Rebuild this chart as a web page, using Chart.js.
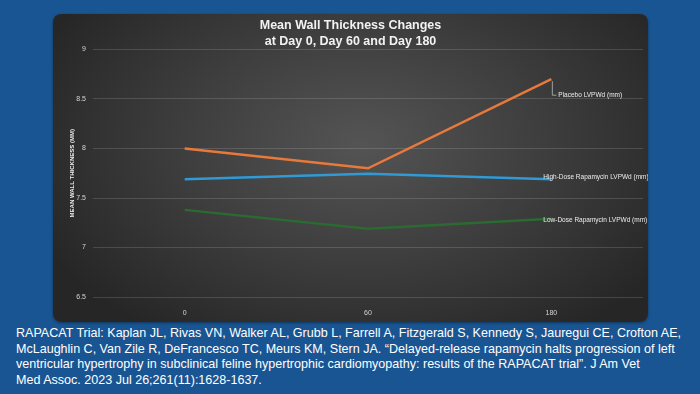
<!DOCTYPE html>
<html>
<head>
<meta charset="utf-8">
<script src="https://cdn.jsdelivr.net/npm/chart.js@4"></script>
<style>
  html, body { margin: 0; padding: 0; }
  body {
    width: 700px; height: 394px; overflow: hidden;
    background: #1a5593;
    font-family: "Liberation Sans", Arial, sans-serif;
    position: relative;
  }
  #panel {
    position: absolute; left: 53px; top: 14px; width: 595px; height: 308px;
    border-radius: 8px;
    background: radial-gradient(ellipse 60% 75% at 52% 42%, #545454 0%, #3e3e3e 50%, #262626 100%);
    box-shadow: 0 1px 3px rgba(0,0,0,0.4);
  }
  #caption {
    position: absolute; left: 16px; top: 325px;
    color: #ffffff;
    font-family: "Liberation Sans", Arial, sans-serif;
    font-size: 13.5px; line-height: 15.6px;
    white-space: nowrap;
    transform-origin: 0 0;
  }
</style>
</head>
<body>
<div id="panel"><canvas id="wallChart"></canvas></div>
<div id="caption">
<div id="capLine1">RAPACAT Trial: Kaplan JL, Rivas VN, Walker AL, Grubb L, Farrell A, Fitzgerald S, Kennedy S, Jauregui CE, Crofton AE,</div>
<div>McLaughlin C, Van Zile R, DeFrancesco TC, Meurs KM, Stern JA. “Delayed-release rapamycin halts progression of left</div>
<div>ventricular hypertrophy in subclinical feline hypertrophic cardiomyopathy: results of the RAPACAT trial”. J Am Vet</div>
<div>Med Assoc. 2023 Jul 26;261(11):1628-1637.</div>
</div>
<script>
const days = ['0', '60', '180'];
const placebo = [8.0, 7.8, 8.7];
const highDose = [7.69, 7.745, 7.69];
const lowDose = [7.38, 7.19, 7.29];
const seriesNames = [
  'Placebo LVPWd (mm)',
  'High-Dose Rapamycin LVPWd (mm)',
  'Low-Dose Rapamycin LVPWd (mm)',
];
const yTicks = [6.5, 7, 7.5, 8, 8.5, 9];

const COLORS = {
  orange: '#e8793b',
  blue: '#2f9ad6',
  green: '#2b6a30',
  tick: '#d6d6d6',
  grid: 'rgba(255, 255, 255, 0.14)',
  label: '#ececec',
};

// squeeze the caption to the narrow width of the original typeface
const cap = document.getElementById('caption');
const line1 = document.getElementById('capLine1');
cap.style.transform = `scaleX(${665 / line1.getBoundingClientRect().width})`;

// end-of-line series labels, placed off the last point of each line
const endLabels = {
  id: 'endLabels',
  afterDatasetsDraw(chart) {
    const ctx = chart.ctx;
    ctx.save();
    ctx.font = '6.5px "Liberation Sans", Arial, sans-serif';
    ctx.fillStyle = COLORS.label;
    ctx.textBaseline = 'middle';
    chart.data.datasets.forEach((ds, i) => {
      const meta = chart.getDatasetMeta(i);
      const pt = meta.data[meta.data.length - 1];
      if (i === 0) {
        ctx.strokeStyle = '#bdbdbd';
        ctx.lineWidth = 0.8;
        ctx.beginPath();
        ctx.moveTo(pt.x + 1, pt.y + 2);
        ctx.lineTo(pt.x + 1, pt.y + 16);
        ctx.lineTo(pt.x + 5, pt.y + 16);
        ctx.stroke();
        ctx.fillText(ds.label, pt.x + 7, pt.y + 16);
      } else if (i === 1) {
        ctx.fillText(ds.label, pt.x - 8, pt.y - 2);
      } else {
        ctx.fillText(ds.label, pt.x - 8, pt.y + 1);
      }
    });
    ctx.restore();
  },
};

function lineSet(label, data, color) {
  return {
    label,
    data,
    borderColor: color,
    backgroundColor: color,
    borderWidth: 2.5,
    pointRadius: 0,
    tension: 0,
  };
}

new Chart(document.getElementById('wallChart'), {
  type: 'line',
  data: {
    labels: days,
    datasets: [
      lineSet(seriesNames[0], placebo, COLORS.orange),
      lineSet(seriesNames[1], highDose, COLORS.blue),
      lineSet(seriesNames[2], lowDose, COLORS.green),
    ],
  },
  options: {
    responsive: true,
    maintainAspectRatio: false,
    animation: false,
    layout: { padding: { left: 5, right: 5, top: 0, bottom: 0 } },
    plugins: {
      legend: { display: false },
      tooltip: { enabled: false },
      title: {
        display: true,
        text: ['Mean Wall Thickness Changes', 'at Day 0, Day 60 and Day 180'],
        color: '#f2f2f2',
        font: { family: '"Liberation Sans", Arial, sans-serif', size: 12.5, weight: 'bold', lineHeight: 1.3 },
        padding: { top: 3, bottom: 0 },
      },
    },
    scales: {
      x: {
        offset: true,
        grid: { display: false },
        border: { display: false },
        ticks: { color: COLORS.tick, font: { size: 7 }, padding: 4 },
        afterFit(scale) { scale.height = 25; },
      },
      y: {
        min: 6.5,
        max: 9,
        afterBuildTicks(scale) { scale.ticks = yTicks.map((v) => ({ value: v })); },
        grid: { color: COLORS.grid, drawTicks: false },
        border: { display: false },
        ticks: {
          color: COLORS.tick,
          font: { size: 7 },
          padding: 7,
          callback: (v) => String(v),
        },
        title: {
          display: true,
          text: 'MEAN WALL THICKNESS (MM)',
          color: '#eeeeee',
          font: { size: 6, weight: 'bold' },
          padding: { top: 11, bottom: 0 },
        },
        afterFit(scale) { scale.width = 35; },
      },
    },
  },
  plugins: [endLabels],
});
</script>
</body>
</html>
